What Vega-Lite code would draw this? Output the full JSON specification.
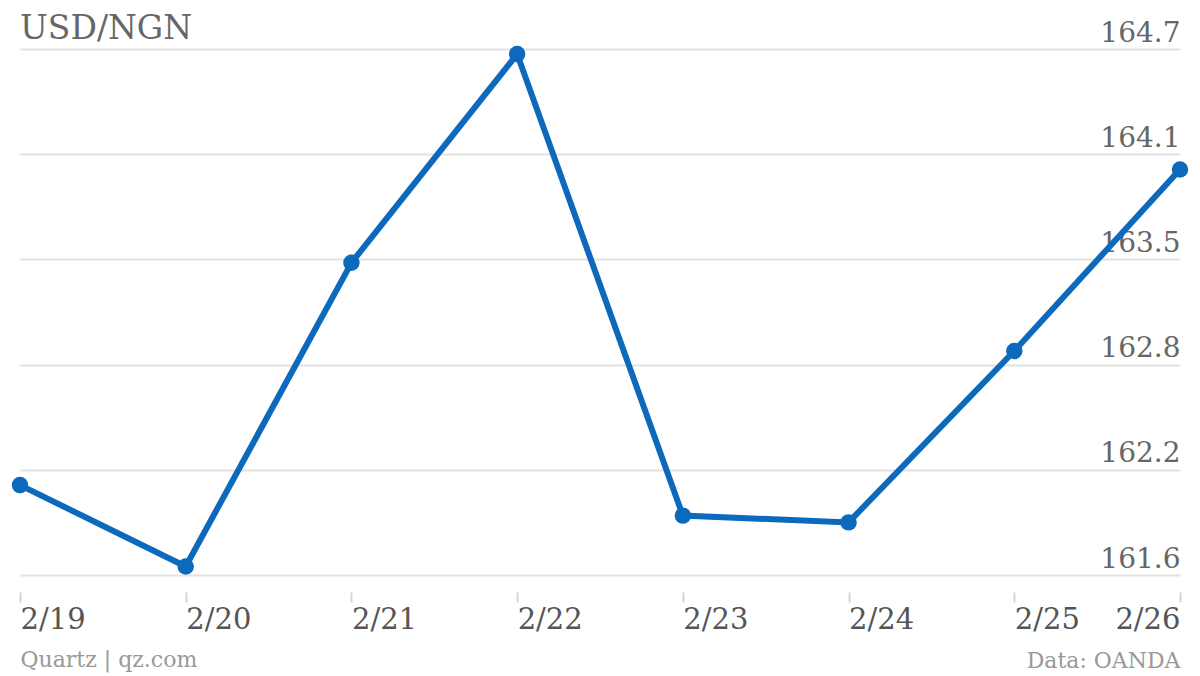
{
  "$schema": "https://vega.github.io/schema/vega-lite/v6.json",
  "width": 1160,
  "height": 526,
  "autosize": "none",
  "padding": {"left": 20, "right": 20, "top": 49, "bottom": 101},
  "background": "white",
  "config": {"font": "DejaVu Serif", "view": {"stroke": null}},
  "title": {"text": "USD/NGN", "anchor": "start", "frame": "group", "fontSize": 33, "fontWeight": "normal", "color": "#666666", "baseline": "alphabetic", "offset": 9, "dy": 62},
  "data": {"values": [
    {"date": "2/19", "rate": 162.13},
    {"date": "2/20", "rate": 161.65},
    {"date": "2/21", "rate": 163.44},
    {"date": "2/22", "rate": 164.67},
    {"date": "2/23", "rate": 161.95},
    {"date": "2/24", "rate": 161.91},
    {"date": "2/25", "rate": 162.92},
    {"date": "2/26", "rate": 163.99}
  ]},
  "layer": [
    {
      "mark": {"type": "line", "color": "#0d69bb", "strokeWidth": 6},
      "encoding": {
        "x": {"field": "date", "type": "ordinal", "sort": null, "scale": {"type": "point", "padding": 0},
          "axis": {"orient": "bottom", "title": "Quartz | qz.com", "titleAnchor": "start", "titleAlign": "left", "titleFontSize": 22, "titleFontWeight": "normal", "titleColor": "#999999", "titlePadding": 15,
            "labelAngle": 0, "labelFontSize": 29, "labelColor": "#555555", "labelPadding": 3, "labelBaseline": "top",
            "labelAlign": {"condition": {"test": "datum.value === '2/26'", "value": "right"}, "value": "left"},
            "domain": false, "grid": false, "ticks": true, "tickSize": 10, "tickColor": "#d5d5d5", "tickWidth": 2, "offset": 17}},
        "y": {"field": "rate", "type": "quantitative", "scale": {"domain": [161.6, 164.7], "nice": false, "zero": false},
          "axis": {"orient": "right", "title": null, "values": [161.6, 162.22, 162.84, 163.46, 164.08, 164.7], "format": ".1f",
            "labelFontSize": 28, "labelColor": "#666666", "labelAlign": "right", "labelBaseline": "alphabetic", "labelOffset": -8, "labelPadding": 0, "labelFlush": false,
            "ticks": false, "tickSize": 0, "domain": false, "grid": true, "gridColor": "#e2e2e2", "gridWidth": 2}}
      }
    },
    {
      "mark": {"type": "point", "filled": true, "size": 270, "color": "#0d69bb", "opacity": 1},
      "encoding": {
        "x": {"field": "date", "type": "ordinal", "sort": null, "scale": {"type": "point", "padding": 0},
          "axis": {"orient": "bottom", "title": "Data: OANDA", "titleAnchor": "end", "titleAlign": "right", "titleFontSize": 22, "titleFontWeight": "normal", "titleColor": "#999999", "titlePadding": 58,
            "labels": false, "domain": false, "grid": false, "ticks": false, "offset": 17}},
        "y": {"field": "rate", "type": "quantitative", "scale": {"domain": [161.6, 164.7], "nice": false, "zero": false},
          "axis": {"orient": "right", "title": null, "values": [161.6, 162.22, 162.84, 163.46, 164.08, 164.7], "format": ".1f",
            "labelFontSize": 28, "labelColor": "#666666", "labelAlign": "right", "labelBaseline": "alphabetic", "labelOffset": -8, "labelPadding": 0, "labelFlush": false,
            "ticks": false, "tickSize": 0, "domain": false, "grid": true, "gridColor": "#e2e2e2", "gridWidth": 2}}
      }
    }
  ],
  "resolve": {"axis": {"x": "independent"}}
}
